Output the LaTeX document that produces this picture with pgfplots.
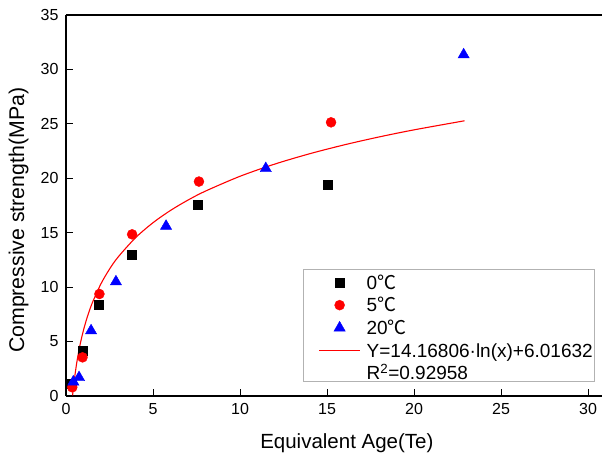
\documentclass[border=0pt]{standalone}
\usepackage{fontspec}
\setmainfont{Liberation Sans}
\newfontfamily\cjk{Noto Sans CJK SC}
\usepackage{pgfplots}
\pgfplotsset{compat=1.18}

\begin{document}
\begin{tikzpicture}
\begin{axis}[
  scale only axis, width=536pt, height=381pt,
  xmin=0, xmax=30.8, ymin=0, ymax=35,
  axis x line*=box, axis y line*=left,
  x axis line style={-, line width=1.1pt, black},
  y axis line style={-, line width=1.1pt, black},
  xtick={0,5,...,30}, ytick={0,5,...,35},
  tick pos=left, tick align=inside, major tick length=7pt,
  tick style={black, line width=0.8pt}, minor tick num=0,
  /pgf/number format/assume math mode=true,
  ticklabel style={font=\fontsize{16}{16}\selectfont},
  xticklabel style={yshift=-4pt}, yticklabel style={xshift=-4pt},
  xlabel={Equivalent Age(Te)}, ylabel={Compressive strength(MPa)},
  xlabel style={font=\fontsize{20.5}{24}\selectfont, at={(axis description cs:0.524,-0.1365)}, anchor=base},
  ylabel style={font=\fontsize{21.3}{24}\selectfont, at={(axis description cs:-0.078,0.461)}, anchor=base},
  legend style={at={(axis description cs:0.987,0.0367)}, anchor=south east,
    draw=gray!60, line width=0.6pt, font=\fontsize{19}{22}\selectfont,
    inner xsep=1pt, inner ysep=0.5pt,
    nodes={inner sep=1pt, text height=18.8pt, text depth=0.3pt},
    column sep=5pt, row sep=1.6pt},
  legend cell align=left,
  legend image code/.code={\path (0pt,-2.6pt); \draw[mark repeat=2,mark phase=2,#1] plot coordinates {(14pt,-2.6pt) (34.5pt,-2.6pt) (55pt,-2.6pt)};},
]
\addplot[only marks, mark=square*, mark size=4.5pt, black, legend image post style={draw=black, line width=0.4pt}] coordinates {
  (0.3,1.1) (0.96,4.2) (1.9,8.35) (3.77,13.0) (7.57,17.6) (15.06,19.45)};
\addlegendentry{0{\cjk ℃}}
\addplot[only marks, mark=*, mark size=5pt, red, legend image post style={draw=red, line width=0.4pt}] coordinates {
  (0.36,0.8) (0.95,3.55) (1.92,9.37) (3.8,14.85) (7.64,19.7) (15.23,25.14)};
\addlegendentry{5{\cjk ℃}}
\addplot[only marks, mark=triangle*, mark size=6.5pt, blue, legend image post style={draw=blue, line width=0.4pt}] coordinates {
  (0.42,1.3) (0.75,1.7) (1.44,6.0) (2.87,10.5) (5.75,15.6) (11.48,20.9) (22.85,31.35)};
\addlegendentry{20{\cjk ℃}}
\addplot[red, line width=1.1pt, smooth, mark=none, legend image post style={draw=red, line width=1.1pt}] coordinates {
  (0.38,0.063) (0.4,0.378) (0.45,1.103) (0.5,1.751) (0.6,2.873) (0.7,3.821)
  (0.8,4.643) (0.9,5.368) (1.0,6.016) (1.1,6.603) (1.25,7.389) (1.5,8.511)
  (2,10.281) (2.5,11.654) (3,12.776) (4,14.546) (5,15.919) (6,17.041)
  (7,17.989) (8,18.811) (10,20.184) (12,21.306) (14,22.254) (16,23.076)
  (18,23.801) (20,24.449) (22.9,25.282)};
\addlegendentry{Y=14.16806·ln(x)+6.01632}
\addlegendimage{empty legend}
\addlegendentry{R\textsuperscript{2}=0.92958}
\coordinate (bl) at (rel axis cs:0,0);
\coordinate (tr) at (rel axis cs:1,1);
\end{axis}
\pgfresetboundingbox
\useasboundingbox ([shift={(-66pt,-63pt)}]bl) rectangle ([shift={(0pt,15pt)}]tr);
\end{tikzpicture}
\end{document}
